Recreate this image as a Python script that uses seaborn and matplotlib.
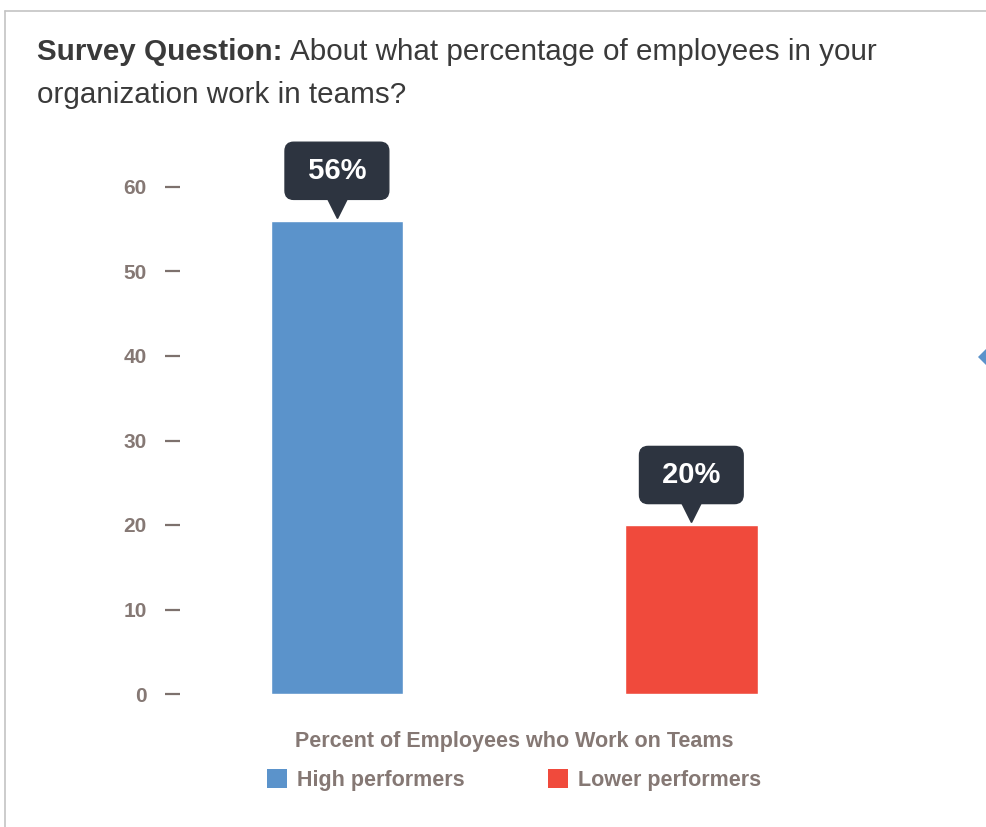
import numpy as np
import pandas as pd
import matplotlib
matplotlib.use('Agg')
import matplotlib.pyplot as plt
import seaborn as sns
from matplotlib.lines import Line2D
from matplotlib.patches import Polygon
from matplotlib.transforms import offset_copy

# data
groups = ['High performers', 'Lower performers']
values = [56, 20]
colors = ['#5b93cb', '#f04a3c']
yticks = [0, 10, 20, 30, 40, 50, 60]

sns.set_style('white')
plt.rcParams['font.family'] = ['Liberation Sans', 'DejaVu Sans']

W, H = 987, 827
fig = plt.figure(figsize=(W / 100, H / 100), dpi=100)

# axes placed in pixels: left 165, right 865, y=0 at 694, y=65 at ~145
y0 = 694
px_per_unit = (694 - 187) / 60
ymax = 65
top = y0 - ymax * px_per_unit
ax = fig.add_axes([165 / W, 1 - y0 / H, 700 / W, (y0 - top) / H])

df = pd.DataFrame({'group': groups, 'value': values})
sns.barplot(data=df, x='group', y='value', hue='group', palette=colors,
            width=0.374, ax=ax, legend=False, saturation=1)

ax.set_xlim(-0.485, 1.49)
ax.set_ylim(0, ymax)
ax.set_yticks(yticks)
for s in ax.spines.values():
    s.set_visible(False)
ax.set_xticks([])
ax.set_xlabel('')
ax.set_ylabel('')
ax.tick_params(axis='y', direction='in', length=11, width=1.6, color='#7d716d',
               pad=13, labelsize=15, labelcolor='#857874', left=True)
for t in ax.get_yticklabels():
    t.set_fontweight('bold')

# callouts above the bars
dark = '#2d3440'
tri = offset_copy(ax.transData, fig=fig, x=0, y=13, units='dots')
for i, v in enumerate(values):
    ax.plot(i, v, marker='v', ms=14, color=dark, transform=tri, clip_on=False, zorder=4)
    ax.annotate(f' {v}% ', xy=(i, v), xytext=(0, 50), textcoords='offset pixels',
                ha='center', va='center', fontsize=21, fontweight='bold', color='white',
                bbox=dict(boxstyle='round,pad=0.5,rounding_size=0.3', fc=dark, ec=dark),
                annotation_clip=False, zorder=5)

# x label + legend
fig.text(514 / W, 1 - 742 / H, 'Percent of Employees who Work on Teams', ha='center',
         va='center', fontsize=15.5, fontweight='bold', color='#857874')
handles = [plt.Rectangle((0, 0), 1, 1, fc=c, ec='none') for c in colors]
leg = fig.legend(handles, groups, loc='center', bbox_to_anchor=(514 / W, 1 - 780 / H),
                 ncol=2, frameon=False, handlelength=0.95, handleheight=0.95,
                 handletextpad=0.45, columnspacing=3.85,
                 prop={'size': 15.5, 'weight': 'bold'})
for t in leg.get_texts():
    t.set_color('#857874')

# title, bold lead-in then regular text
tcol = '#3a3a3a'
t1 = fig.text(37 / W, 1 - 60 / H, 'Survey Question:', fontsize=21.3, fontweight='bold',
              color=tcol, va='baseline')
fig.canvas.draw()
bb = t1.get_window_extent()
fig.text((bb.x1 + 8) / W, 1 - 60 / H, 'About what percentage of employees in your',
         fontsize=21.3, color=tcol, va='baseline')
fig.text(37 / W, 1 - 103 / H, 'organization work in teams?', fontsize=21.3, color=tcol,
         va='baseline')

# card border and the clipped marker at the right edge
fig.add_artist(Line2D([5 / W, 1], [1 - 11 / H, 1 - 11 / H], color='#c4c4c4', lw=1.2))
fig.add_artist(Line2D([5 / W, 5 / W], [1 - 11 / H, 0], color='#c4c4c4', lw=1.2))
fig.add_artist(Polygon([[978 / W, 1 - 357 / H], [990 / W, 1 - 345 / H],
                        [1.0, 1 - 357 / H], [990 / W, 1 - 369 / H]],
                       closed=True, fc='#5b93cb', ec='none'))

fig.savefig('out.png', dpi=100)
